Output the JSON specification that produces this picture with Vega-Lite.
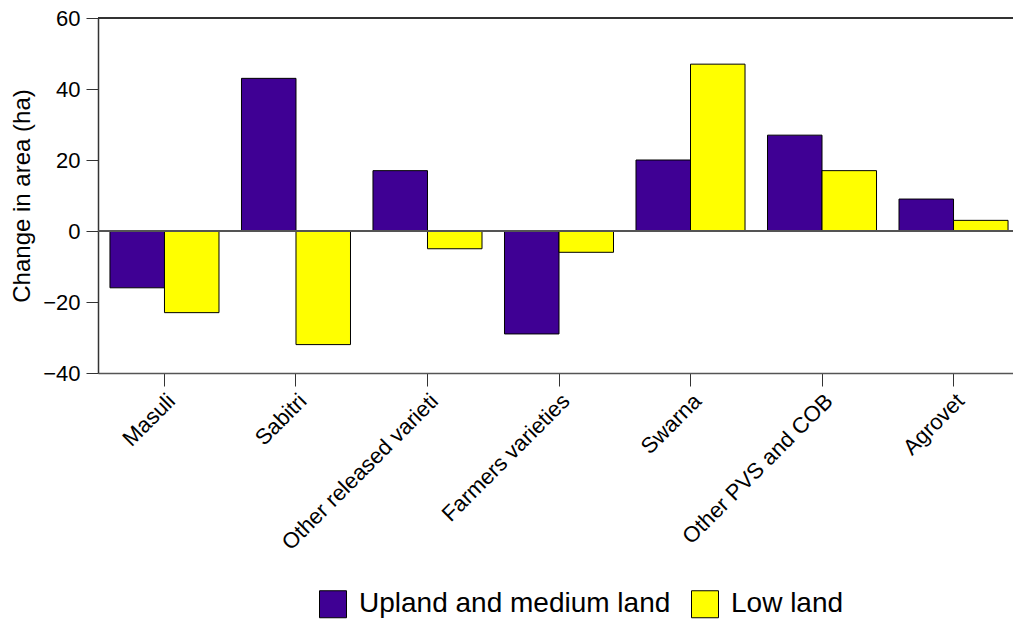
{
  "$schema": "https://vega.github.io/schema/vega-lite/v6.json",
  "autosize": "none",
  "width": 922,
  "height": 355,
  "padding": {"left": 98, "top": 18, "right": 0, "bottom": 250},
  "background": "white",
  "config": {
    "view": {"stroke": null},
    "font": "Liberation Sans"
  },
  "data": {
    "values": [
      {"variety": "Masuli", "land": "Upland and medium land", "change": -16},
      {"variety": "Masuli", "land": "Low land", "change": -23},
      {"variety": "Sabitri", "land": "Upland and medium land", "change": 43},
      {"variety": "Sabitri", "land": "Low land", "change": -32},
      {"variety": "Other released varieti", "land": "Upland and medium land", "change": 17},
      {"variety": "Other released varieti", "land": "Low land", "change": -5},
      {"variety": "Farmers varieties", "land": "Upland and medium land", "change": -29},
      {"variety": "Farmers varieties", "land": "Low land", "change": -6},
      {"variety": "Swarna", "land": "Upland and medium land", "change": 20},
      {"variety": "Swarna", "land": "Low land", "change": 47},
      {"variety": "Other PVS and COB", "land": "Upland and medium land", "change": 27},
      {"variety": "Other PVS and COB", "land": "Low land", "change": 17},
      {"variety": "Agrovet", "land": "Upland and medium land", "change": 9},
      {"variety": "Agrovet", "land": "Low land", "change": 3}
    ]
  },
  "layer": [
    {
      "mark": {"type": "bar", "stroke": "black", "strokeWidth": 1},
      "encoding": {
        "x": {
          "field": "variety",
          "type": "nominal",
          "sort": null,
          "scale": {"paddingInner": 0.171, "paddingOuter": 0.091},
          "axis": {
            "title": null,
            "labelAngle": -45,
            "labelFontSize": 22,
            "labelColor": "black",
            "labelPadding": 4,
            "tickSize": 13,
            "tickColor": "#333",
            "domainColor": "#555",
            "domainWidth": 1.5,
            "labelLimit": 400
          }
        },
        "xOffset": {"field": "land", "type": "nominal", "sort": ["Upland and medium land", "Low land"], "scale": {"paddingInner": 0, "paddingOuter": 0}},
        "y": {
          "field": "change",
          "type": "quantitative",
          "scale": {"domain": [-40, 60], "nice": false},
          "axis": {
            "title": "Change in area (ha)",
            "titleFontSize": 24,
            "titleFontWeight": "normal",
            "titleColor": "black",
            "titlePadding": 8,
            "values": [-40, -30, -20, -10, 0, 10, 20, 30, 40, 50, 60],
            "labelExpr": "datum.value % 20 === 0 ? datum.label : ''",
            "labelFontSize": 22,
            "labelColor": "black",
            "labelPadding": 6,
            "tickSize": {"condition": {"test": "datum.value % 20 === 0", "value": 12}, "value": 6},
            "tickColor": "#333",
            "domainColor": "#333",
            "domainWidth": 1.5,
            "grid": false
          }
        },
        "fill": {
          "field": "land",
          "type": "nominal",
          "sort": ["Upland and medium land", "Low land"],
          "scale": {"domain": ["Upland and medium land", "Low land"], "range": ["#3F0094", "#FFFF00"]},
          "legend": {
            "title": null,
            "orient": "none",
            "direction": "horizontal",
            "legendX": 221,
            "legendY": 572,
            "symbolType": "square",
            "symbolSize": 729,
            "symbolStrokeColor": "black",
            "symbolStrokeWidth": 1,
            "labelFontSize": 28,
            "labelColor": "black",
            "labelOffset": 12,
            "columnPadding": 18,
            "labelLimit": 500
          }
        }
      }
    },
    {
      "mark": {"type": "rule", "color": "#555", "strokeWidth": 1.5},
      "encoding": {"y": {"datum": 0}}
    },
    {
      "mark": {"type": "rule", "color": "#333", "strokeWidth": 1.5},
      "encoding": {"y": {"datum": 60}}
    }
  ]
}
